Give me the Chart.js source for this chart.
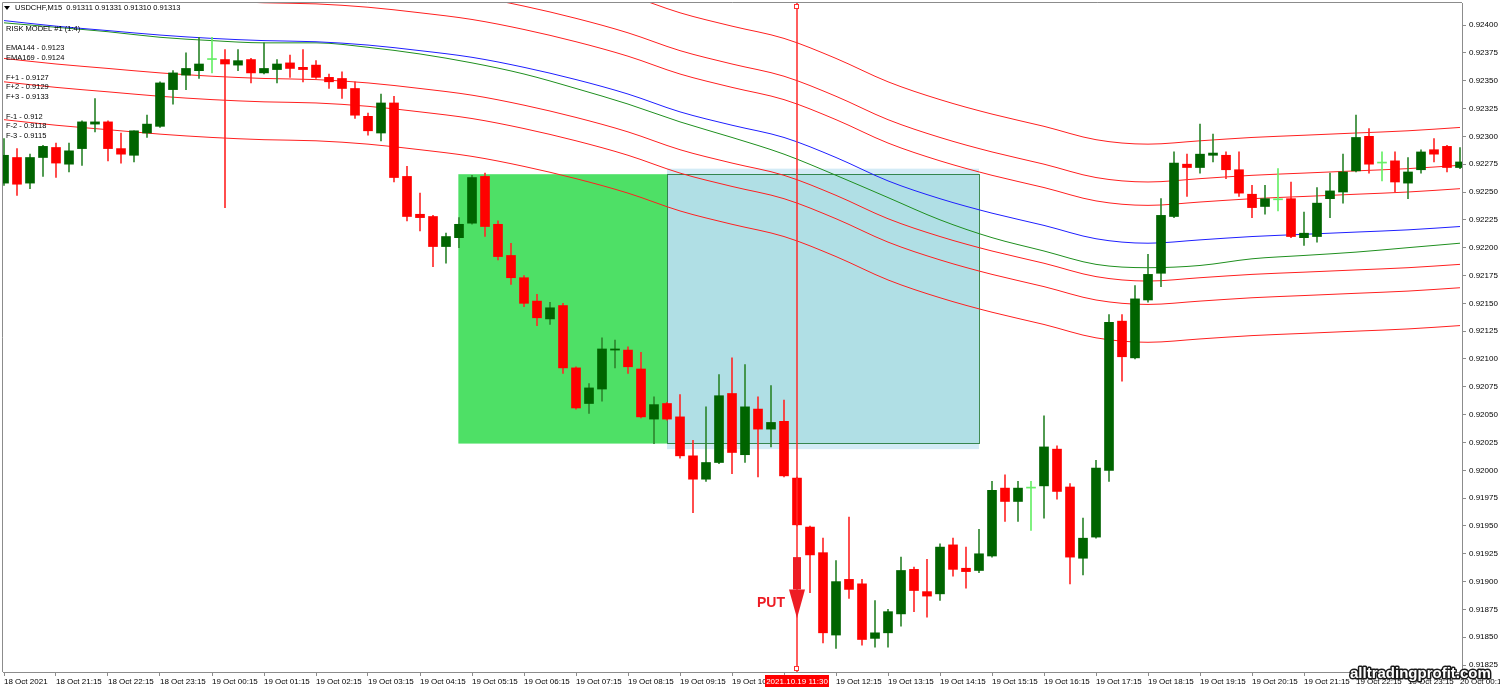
<!DOCTYPE html>
<html>
<head>
<meta charset="utf-8">
<title>USDCHF M15</title>
<script src="https://cdn.jsdelivr.net/npm/chart.js@4.4.1/dist/chart.umd.min.js"></script>
<style>
  html, body { margin: 0; padding: 0; background: #fff; }
  #wrap { width: 1500px; height: 690px; }
</style>
</head>
<body>
<div id="wrap"><canvas id="chart" width="1500" height="690"></canvas></div>
<script>
// M15 candles, bar 0 = 18 Oct 20:15
const opens = [0.92258,0.92281,0.92258,0.92281,0.92290,0.92275,0.92289,0.92311,0.92313,0.92289,
  0.92283,0.92303,0.92309,0.92342,0.92355,0.92359,0.92369,0.92369,0.92364,0.92369,
  0.92357,0.92360,0.92366,0.92362,0.92364,0.92353,0.92352,0.92343,0.92318,0.92303,
  0.92330,0.92264,0.92230,0.92228,0.92201,0.92209,0.92222,0.92264,0.92221,0.92193,
  0.92173,0.92152,0.92136,0.92148,0.92092,0.92060,0.92073,0.92108,0.92108,0.92091,
  0.92046,0.92060,0.92048,0.92013,0.91992,0.92007,0.92069,0.92014,0.92055,0.92037,
  0.92044,0.91993,0.91949,0.91926,0.91852,0.91902,0.91898,0.91849,0.91854,0.91871,
  0.91911,0.91891,0.91889,0.91933,0.91912,0.91910,0.91923,0.91984,0.91972,0.91984,
  0.91986,0.92019,0.91985,0.91921,0.91940,0.92000,0.92134,0.92101,0.92153,0.92177,
  0.92228,0.92275,0.92272,0.92283,0.92283,0.92270,0.92248,0.92237,0.92243,0.92244,
  0.92209,0.92210,0.92244,0.92250,0.92269,0.92300,0.92276,0.92278,0.92258,0.92270,
  0.92288,0.92291,0.92272];
const highs = [0.92298,0.92289,0.92284,0.92292,0.92294,0.92294,0.92314,0.92334,0.92314,0.92303,
  0.92305,0.92319,0.92349,0.92359,0.92375,0.92389,0.92389,0.92378,0.92378,0.92370,
  0.92384,0.92369,0.92373,0.92378,0.92368,0.92356,0.92358,0.92349,0.92321,0.92338,
  0.92336,0.92273,0.92249,0.92229,0.92213,0.92227,0.92265,0.92267,0.92224,0.92204,
  0.92175,0.92158,0.92151,0.92150,0.92093,0.92078,0.92119,0.92117,0.92111,0.92106,
  0.92066,0.92061,0.92068,0.92027,0.92057,0.92086,0.92101,0.92095,0.92066,0.92076,
  0.92063,0.91994,0.91950,0.91939,0.91919,0.91958,0.91902,0.91883,0.91875,0.91922,
  0.91913,0.91920,0.91934,0.91939,0.91931,0.91947,0.91990,0.91996,0.91990,0.91990,
  0.92049,0.92022,0.91988,0.91957,0.92009,0.92140,0.92140,0.92166,0.92194,0.92244,
  0.92286,0.92284,0.92311,0.92302,0.92286,0.92286,0.92256,0.92256,0.92271,0.92259,
  0.92232,0.92254,0.92267,0.92284,0.92319,0.92307,0.92286,0.92286,0.92281,0.92288,
  0.92298,0.92292,0.92290];
const lows = [0.92256,0.92247,0.92253,0.92264,0.92263,0.92268,0.92274,0.92304,0.92278,0.92276,
  0.92277,0.92299,0.92308,0.92329,0.92342,0.92352,0.92357,0.92236,0.92359,0.92348,
  0.92356,0.92348,0.92353,0.92349,0.92352,0.92343,0.92334,0.92316,0.92301,0.92296,
  0.92259,0.92224,0.92215,0.92183,0.92186,0.92200,0.92221,0.92210,0.92189,0.92167,
  0.92147,0.92130,0.92131,0.92087,0.92055,0.92051,0.92062,0.92092,0.92087,0.92047,
  0.92024,0.92045,0.92011,0.91962,0.91990,0.92006,0.91997,0.92007,0.91994,0.92021,
  0.91994,0.91950,0.91890,0.91845,0.91840,0.91885,0.91843,0.91841,0.91841,0.91860,
  0.91873,0.91868,0.91883,0.91905,0.91894,0.91908,0.91922,0.91954,0.91954,0.91946,
  0.91957,0.91974,0.91898,0.91906,0.91939,0.91990,0.92080,0.92100,0.92151,0.92165,
  0.92227,0.92246,0.92267,0.92277,0.92262,0.92246,0.92227,0.92230,0.92233,0.92209,
  0.92202,0.92205,0.92227,0.92240,0.92268,0.92267,0.92260,0.92250,0.92244,0.92267,
  0.92277,0.92268,0.92271];
const closes = [0.92283,0.92257,0.92281,0.92291,0.92276,0.92287,0.92313,0.92313,0.92289,0.92284,
  0.92305,0.92311,0.92348,0.92357,0.92361,0.92365,0.92369,0.92365,0.92368,0.92357,
  0.92361,0.92365,0.92361,0.92360,0.92353,0.92349,0.92343,0.92319,0.92305,0.92330,
  0.92263,0.92228,0.92227,0.92201,0.92210,0.92221,0.92263,0.92219,0.92192,0.92173,
  0.92150,0.92137,0.92146,0.92092,0.92056,0.92074,0.92109,0.92109,0.92093,0.92048,
  0.92059,0.92046,0.92013,0.91992,0.92007,0.92067,0.92016,0.92057,0.92037,0.92043,
  0.91995,0.91951,0.91924,0.91854,0.91900,0.91893,0.91848,0.91854,0.91873,0.91910,
  0.91892,0.91887,0.91931,0.91911,0.91909,0.91925,0.91982,0.91972,0.91984,0.91984,
  0.92021,0.91981,0.91922,0.91939,0.92002,0.92133,0.92102,0.92154,0.92176,0.92229,
  0.92276,0.92272,0.92284,0.92285,0.92270,0.92249,0.92236,0.92244,0.92243,0.92210,
  0.92213,0.92240,0.92251,0.92268,0.92299,0.92275,0.92276,0.92259,0.92268,0.92286,
  0.92284,0.92272,0.92277];

// hourly sample points (bar index) used for axis labels and indicator lines
const hourIdx = [0,4,8,12,16,20,24,28,32,36,40,44,48,52,56,60,64,68,72,76,80,84,88,92,96,100,104,108,112];
const hourLabels = ['18 Oct 2021','18 Oct 21:15','18 Oct 22:15','18 Oct 23:15','19 Oct 00:15','19 Oct 01:15',
  '19 Oct 02:15','19 Oct 03:15','19 Oct 04:15','19 Oct 05:15','19 Oct 06:15','19 Oct 07:15','19 Oct 08:15',
  '19 Oct 09:15','19 Oct 10:15','19 Oct 11:15','19 Oct 12:15','19 Oct 13:15','19 Oct 14:15','19 Oct 15:15',
  '19 Oct 16:15','19 Oct 17:15','19 Oct 18:15','19 Oct 19:15','19 Oct 20:15','19 Oct 21:15','19 Oct 22:15',
  '19 Oct 23:15','20 Oct 00:15'];

const ema144 = [0.92404,0.92399,0.92395,0.92391,0.92388,0.92386,0.92385,0.92382,0.92377,0.92371,0.92362,0.92351,0.92338,0.92322,0.92310,
  0.92299,0.92281,0.92260,0.92244,0.92231,0.92220,0.92208,0.92204,0.92207,0.92210,0.92212,0.92214,0.92216,0.92219];
const ema169 = [0.92402,0.92398,0.92394,0.92389,0.92386,0.92384,0.92384,0.92380,0.92374,0.92366,0.92356,0.92343,0.92329,0.92313,0.92299,
  0.92284,0.92265,0.92245,0.92225,0.92209,0.92197,0.92185,0.92182,0.92184,0.92190,0.92193,0.92196,0.92200,0.92204];
const fPlus1 = [0.92438,0.92433,0.92429,0.92425,0.92422,0.92420,0.92419,0.92416,0.92411,0.92405,0.92396,0.92385,0.92372,0.92356,0.92344,
  0.92333,0.92315,0.92294,0.92278,0.92265,0.92254,0.92242,0.92238,0.92241,0.92244,0.92246,0.92248,0.92250,0.92253];
const fPlus2 = [0.92459,0.92454,0.92450,0.92446,0.92443,0.92441,0.92440,0.92437,0.92432,0.92426,0.92417,0.92406,0.92393,0.92377,0.92365,
  0.92354,0.92336,0.92315,0.92299,0.92286,0.92275,0.92263,0.92259,0.92262,0.92265,0.92267,0.92269,0.92271,0.92274];
const fPlus3 = [0.92493,0.92488,0.92484,0.92480,0.92477,0.92475,0.92474,0.92471,0.92466,0.92460,0.92451,0.92440,0.92427,0.92411,0.92399,
  0.92388,0.92370,0.92349,0.92333,0.92320,0.92309,0.92297,0.92293,0.92296,0.92299,0.92301,0.92303,0.92305,0.92308];
const fMinus1 = [0.92370,0.92365,0.92361,0.92357,0.92354,0.92352,0.92351,0.92348,0.92343,0.92337,0.92328,0.92317,0.92304,0.92288,0.92276,
  0.92265,0.92247,0.92226,0.92210,0.92197,0.92186,0.92174,0.92170,0.92173,0.92176,0.92178,0.92180,0.92182,0.92185];
const fMinus2 = [0.92349,0.92344,0.92340,0.92336,0.92333,0.92331,0.92330,0.92327,0.92322,0.92316,0.92307,0.92296,0.92283,0.92267,0.92255,
  0.92244,0.92226,0.92205,0.92189,0.92176,0.92165,0.92153,0.92149,0.92152,0.92155,0.92157,0.92159,0.92161,0.92164];
const fMinus3 = [0.92315,0.92310,0.92306,0.92302,0.92299,0.92297,0.92296,0.92293,0.92288,0.92282,0.92273,0.92262,0.92249,0.92233,0.92221,
  0.92210,0.92192,0.92171,0.92155,0.92142,0.92131,0.92119,0.92115,0.92118,0.92121,0.92123,0.92125,0.92127,0.92130];

const priceTicks = [0.91825,0.91850,0.91875,0.91900,0.91925,0.91950,0.91975,0.92000,0.92025,0.92050,0.92075,0.92100,
  0.92125,0.92150,0.92175,0.92200,0.92225,0.92250,0.92275,0.92300,0.92325,0.92350,0.92375,0.92400];

// risk model boxes (bar index / price)
const zoneStart = 34.95, zoneSplit = 51, zoneEnd = 75;
const zoneTop = 0.92266, zoneBottom = 0.92024;
const haloTop = 0.92271, haloBottom = 0.92019;

const crossIdx = 61;
const crossLabel = '2021.10.19 11:30';
const arrowTop = 0.91922, arrowNeck = 0.91893, arrowTip = 0.91867;

const titleText = 'USDCHF,M15  0.91311 0.91331 0.91310 0.91313';
const infoLines = ['RISK MODEL #1 (1:4)', 'EMA144 - 0.9123', 'EMA169 - 0.9124', 'F+1 - 0.9127', 'F+2 - 0.9129',
  'F+3 - 0.9133', 'F-1 - 0.912', 'F-2 - 0.9118', 'F-3 - 0.9115'];

const bars = opens.map((o, i) => i);
function dir(i) { return closes[i] > opens[i] ? 1 : closes[i] < opens[i] ? -1 : 0; }
function bodyColor(i) { const d = dir(i); return d > 0 ? '#006400' : d < 0 ? '#ff0000' : '#66ee66'; }
function wickColor(i) { const d = dir(i); return d > 0 ? '#2f872f' : d < 0 ? '#ff2a2a' : '#66ee66'; }
function lineSet(label, values, color) {
  return {
    type: 'line', label: label, order: 2,
    data: hourIdx.map((i, k) => ({ x: i, y: values[k] })),
    borderColor: color, borderWidth: 1, pointRadius: 0,
    cubicInterpolationMode: 'monotone'
  };
}

const drawings = {
  id: 'drawings',
  beforeDatasetsDraw(chart) {
    const { ctx, scales: { x, y } } = chart;
    const box = (i0, i1, p0, p1) => {
      const x0 = x.getPixelForValue(i0), x1 = x.getPixelForValue(i1);
      const y0 = y.getPixelForValue(p0), y1 = y.getPixelForValue(p1);
      return [x0, y0, x1 - x0, y1 - y0];
    };
    ctx.save();
    ctx.fillStyle = '#4ee066';
    ctx.fillRect(...box(zoneStart, zoneSplit, zoneTop, zoneBottom));
    ctx.fillStyle = '#d3ebf6';
    ctx.fillRect(...box(zoneSplit, zoneEnd, haloTop, haloBottom));
    const r = box(zoneSplit, zoneEnd, zoneTop, zoneBottom);
    ctx.fillStyle = '#b0dfe5';
    ctx.fillRect(...r);
    ctx.strokeStyle = 'rgba(20,110,40,0.8)';
    ctx.lineWidth = 1;
    ctx.strokeRect(Math.round(r[0]) + 0.5, Math.round(r[1]) + 0.5, Math.round(r[2]), Math.round(r[3]));
    ctx.restore();
  },
  afterDatasetsDraw(chart) {
    const { ctx, chartArea: a, scales: { x, y } } = chart;
    const ax = x.getPixelForValue(crossIdx);
    const cx = Math.round(ax);
    ctx.save();
    // vertical marker line, soft 2px red like the terminal's
    ctx.fillStyle = 'rgba(255,40,40,0.75)';
    ctx.fillRect(cx - 1, a.top, 2, a.bottom - a.top);
    ctx.strokeStyle = '#ff3030';
    ctx.lineWidth = 1;
    ctx.fillStyle = '#fff';
    ctx.fillRect(cx - 2.5, a.top + 1.5, 4, 4);
    ctx.strokeRect(cx - 2.5, a.top + 1.5, 4, 4);
    ctx.fillRect(cx - 2.5, a.bottom - 5.5, 4, 4);
    ctx.strokeRect(cx - 2.5, a.bottom - 5.5, 4, 4);

    const yTop = y.getPixelForValue(arrowTop);
    const yNeck = y.getPixelForValue(arrowNeck);
    const yTip = y.getPixelForValue(arrowTip);
    ctx.fillStyle = '#ed1c24';
    ctx.fillRect(ax - 4, yTop, 8, yNeck - yTop);
    ctx.beginPath();
    ctx.moveTo(ax - 8, yNeck);
    ctx.lineTo(ax + 8, yNeck);
    ctx.lineTo(ax, yTip);
    ctx.closePath();
    ctx.fill();
    ctx.font = 'bold 14px "Liberation Sans", Arial, sans-serif';
    ctx.textAlign = 'right';
    ctx.textBaseline = 'middle';
    ctx.fillText('PUT', ax - 12, yNeck + 14);
    ctx.restore();
  },
  afterDraw(chart) {
    const { ctx, chartArea: a, scales: { x } } = chart;
    ctx.save();
    // frame
    ctx.strokeStyle = '#8c8c8c';
    ctx.lineWidth = 1;
    ctx.beginPath();
    ctx.moveTo(a.left - 0.5, a.bottom);
    ctx.lineTo(a.left - 0.5, a.top - 0.5);
    ctx.lineTo(a.right, a.top - 0.5);
    ctx.stroke();

    // header
    ctx.fillStyle = '#000';
    ctx.beginPath();
    ctx.moveTo(4, 6); ctx.lineTo(10, 6); ctx.lineTo(7, 10); ctx.closePath();
    ctx.fill();
    ctx.font = '7.5px "Liberation Sans", Arial, sans-serif';
    ctx.textAlign = 'left';
    ctx.textBaseline = 'middle';
    ctx.fillText(titleText, 15, 8);
    const infoY = [29, 48, 58, 78, 87, 97, 117, 126, 136];
    infoLines.forEach((t, k) => ctx.fillText(t, 6, infoY[k]));

    // crosshair time label
    const cx = Math.round(x.getPixelForValue(crossIdx));
    ctx.fillStyle = '#ff0000';
    ctx.fillRect(cx - 32, a.bottom + 3, 64, 12);
    ctx.fillStyle = '#fff';
    ctx.font = '8px "Liberation Sans", Arial, sans-serif';
    ctx.textAlign = 'center';
    ctx.fillText(crossLabel, cx, a.bottom + 9.5);

    // watermark
    ctx.font = 'bold 15px "Liberation Sans", Arial, sans-serif';
    ctx.textAlign = 'left';
    ctx.textBaseline = 'alphabetic';
    ctx.lineJoin = 'round';
    ctx.lineWidth = 3;
    ctx.strokeStyle = '#1a1a1a';
    ctx.strokeText('alltradingprofit.com', 1350, 678);
    ctx.fillStyle = '#fff';
    ctx.fillText('alltradingprofit.com', 1350, 678);
    ctx.restore();
  }
};

Chart.defaults.font.family = '"Liberation Sans", Arial, sans-serif';
Chart.defaults.font.size = 8;
Chart.defaults.color = '#000';

new Chart(document.getElementById('chart'), {
  type: 'bar',
  data: {
    datasets: [
      {
        type: 'bar', label: 'bodies', order: 0, grouped: false,
        data: bars.map(i => ({ x: i, y: [opens[i], closes[i]] })),
        backgroundColor: ctx => bodyColor(ctx.dataIndex),
        barThickness: 9, minBarLength: 1, borderWidth: 0
      },
      {
        type: 'bar', label: 'wicks', order: 1, grouped: false,
        data: bars.map(i => ({ x: i, y: [lows[i], highs[i]] })),
        backgroundColor: ctx => wickColor(ctx.dataIndex),
        barThickness: 1, borderWidth: 0
      },
      lineSet('F+3', fPlus3, '#ff2020'),
      lineSet('F+2', fPlus2, '#ff2020'),
      lineSet('F+1', fPlus1, '#ff2020'),
      lineSet('EMA144', ema144, '#1f1fff'),
      lineSet('EMA169', ema169, '#1f8f1f'),
      lineSet('F-1', fMinus1, '#ff2020'),
      lineSet('F-2', fMinus2, '#ff2020'),
      lineSet('F-3', fMinus3, '#ff2020')
    ]
  },
  options: {
    responsive: false,
    animation: false,
    devicePixelRatio: 1,
    layout: { padding: { left: 3, top: 3, right: 0, bottom: 0 }, autoPadding: false },
    plugins: { legend: { display: false }, tooltip: { enabled: false } },
    scales: {
      x: {
        type: 'linear', offset: false,
        min: -1 / 13, max: 1458 / 13,
        afterBuildTicks: s => { s.ticks = hourIdx.map(v => ({ value: v })); },
        afterFit: s => { s.height = 18; s.paddingLeft = 0; s.paddingRight = 0; },
        ticks: {
          autoSkip: false, maxRotation: 0, minRotation: 0, align: 'start', padding: 1,
          callback: v => hourLabels[hourIdx.indexOf(v)]
        },
        grid: { offset: false, drawOnChartArea: false, drawTicks: true, tickLength: 4, color: '#8c8c8c' },
        border: { color: '#8c8c8c' }
      },
      y: {
        type: 'linear', position: 'right',
        min: 0.918188, max: 0.924198,
        afterBuildTicks: s => { s.ticks = priceTicks.map(v => ({ value: v })); },
        afterFit: s => { s.width = 38; s.paddingTop = 0; s.paddingBottom = 0; },
        ticks: { autoSkip: false, padding: 3, callback: v => v.toFixed(5) },
        grid: { drawOnChartArea: false, drawTicks: true, tickLength: 4, color: '#8c8c8c' },
        border: { color: '#8c8c8c' }
      }
    }
  },
  plugins: [drawings]
});
</script>
</body>
</html>
